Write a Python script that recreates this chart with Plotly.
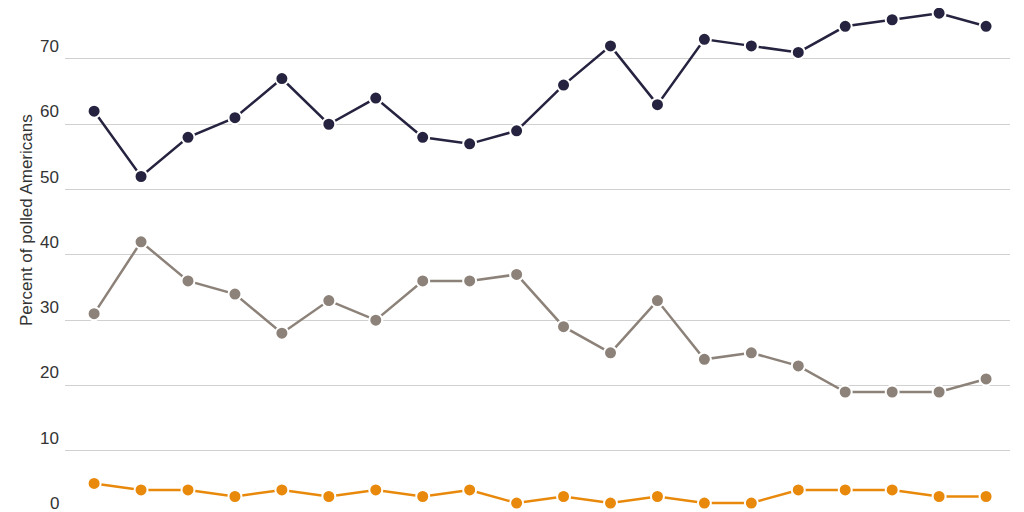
import plotly.graph_objects as go

x = list(range(20))
dark = [62, 52, 58, 61, 67, 60, 64, 58, 57, 59, 66, 72, 63, 73, 72, 71, 75, 76, 77, 75]
gray = [31, 42, 36, 34, 28, 33, 30, 36, 36, 37, 29, 25, 33, 24, 25, 23, 19, 19, 19, 21]
orange = [5, 4, 4, 3, 4, 3, 4, 3, 4, 2, 3, 2, 3, 2, 2, 4, 4, 4, 3, 3]
ticks = [0, 10, 20, 30, 40, 50, 60, 70]

fig = go.Figure()
for vals, col in [(dark, '#25233f'), (gray, '#8c8279'), (orange, '#e8890c')]:
    fig.add_trace(go.Scatter(x=x, y=vals, mode='lines+markers', cliponaxis=False,
                             line=dict(color=col, width=2.5),
                             marker=dict(size=13, color=col, line=dict(color='white', width=2))))

for t in ticks:
    fig.add_annotation(x=0, xref='paper', y=t, yref='y', text=str(t), showarrow=False,
                       xanchor='right', yanchor='bottom', xshift=-4, yshift=1,
                       font=dict(size=17, color='#333333'))

fig.add_annotation(x=(7 - 57) / 945, xref='paper', y=0.585, yref='paper',
                   text='Percent of polled Americans', textangle=-90, showarrow=False,
                   font=dict(size=17, color='#333333'))

fig.update_xaxes(range=[-0.62, 19.51], visible=False)
fig.update_yaxes(range=[-0.6, 77.8], tickvals=ticks[1:], showticklabels=False,
                 gridcolor='#d0d0d0', gridwidth=1, zeroline=False)
fig.update_layout(width=1024, height=512, margin=dict(l=57, r=22, t=0, b=0),
                  plot_bgcolor='white', paper_bgcolor='white', showlegend=False,
                  font=dict(family='Liberation Sans'))
fig.write_html('out.html')
